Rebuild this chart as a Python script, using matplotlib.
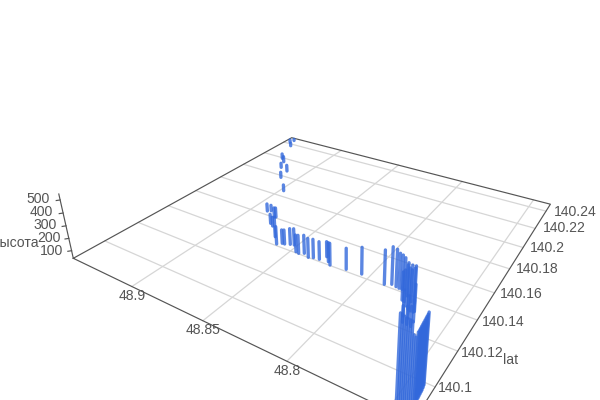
import numpy as np
import matplotlib
matplotlib.use('Agg')
import matplotlib.pyplot as plt

plt.rcParams['font.family'] = ['Liberation Sans', 'DejaVu Sans']

lon = [48.9429, 48.9438, 48.9389, 48.9301, 48.9255, 48.9212, 48.9139, 48.9114, 48.8975, 48.8896, 48.8877, 48.8803, 48.8812,
       48.8784, 48.8754, 48.8666, 48.8611, 48.8588, 48.8572, 48.8542, 48.8518, 48.8469, 48.8447, 48.8420, 48.8378, 48.8352,
       48.8315, 48.8294, 48.8260, 48.8235, 48.8139, 48.8046, 48.7901, 48.7868, 48.7840, 48.7821, 48.7805, 48.7791, 48.7756,
       48.7721, 48.7702, 48.7764, 48.7749, 48.7726, 48.7708, 48.7693, 48.7677, 48.7705, 48.7678,
       48.7687, 48.7663, 48.7641, 48.7644, 48.7673,
       48.7471, 48.7466, 48.7462, 48.7457, 48.7453, 48.7448, 48.7443, 48.7439, 48.7434, 48.7430, 48.7427, 48.7425, 48.7427, 48.7429, 48.7434,
       48.7428, 48.7426, 48.7426, 48.7428, 48.7431]
lat = [140.2457, 140.2423, 140.2376, 140.2193, 140.2158, 140.2087, 140.2065, 140.1980, 140.1857, 140.1633, 140.1646, 140.1608, 140.1604,
       140.1545, 140.1530, 140.1459, 140.1412, 140.1431, 140.1432, 140.1444, 140.1449, 140.1408, 140.1404, 140.1418, 140.1401, 140.1411,
       140.1415, 140.1450, 140.1421, 140.1403, 140.1414, 140.1420, 140.1408, 140.1425, 140.1420, 140.1417, 140.1417, 140.1418, 140.1389,
       140.1363, 140.1364, 140.1354, 140.1347, 140.1329, 140.1316, 140.1310, 140.1310, 140.1268, 140.1268,
       140.1234, 140.1232, 140.1229, 140.1258, 140.1316,
       140.0840, 140.0847, 140.0854, 140.0861, 140.0868, 140.0875, 140.0882, 140.0890, 140.0897, 140.0904, 140.0915, 140.0926, 140.0945, 140.0964, 140.0988,
       140.0910, 140.0920, 140.0935, 140.0955, 140.0976]
height = [50, 59, 63, 82, 89, 78, 94, 87, 92, 101, 86, 118, 118,
          117, 114, 203, 183, 150, 155, 169, 174, 176, 186, 186, 193, 188,
          181, 161, 192, 213, 206, 249, 303, 327, 325, 306, 300, 285, 290,
          313, 315, 250, 278, 342, 341, 340, 361, 230, 200,
          160, 170, 185, 195, 240,
          646, 635, 618, 602, 591, 580, 568, 480, 462, 487, 500, 513, 515, 517, 513,
          494, 507, 514, 516, 515]

x_grid = [48.9, 48.85, 48.8, 48.75]
y_grid = [140.1, 140.12, 140.14, 140.16, 140.18, 140.2, 140.22, 140.24]
z_ticks = [100, 200, 300, 400, 500]

x_range = (48.739, 48.948)
y_range = (140.083, 140.2487)
z_range = (37, 545)

W, HT = 600, 400

# floor corners as they sit in the picture, the camera is fitted to these
corners = {(1, 0): (73.3, 258.3), (0, 0): (413, 422), (0, 1): (550.4, 204.2), (1, 1): (291.7, 137.7)}
rows = []
for (u, v), (px, py) in corners.items():
    rows.append([u, v, 1, 0, 0, 0, -px * u, -px * v, -px])
    rows.append([0, 0, 0, u, v, 1, -py * u, -py * v, -py])
H = np.linalg.svd(np.array(rows, float))[2][-1].reshape(3, 3)
H /= H[2, 2]
w_left = (H @ np.array([1, 0, 1.0]))[2]
vanish = np.array([346, 1468, 1.0]) * (-w_left * 64.3 / 1274)
P = np.column_stack([H[:, 0], H[:, 1], vanish, H[:, 2]])

scale = np.diag([1 / (x_range[1] - x_range[0]), 1 / (y_range[1] - y_range[0]),
                 1 / (z_range[1] - z_range[0]), 1.0])
scale[:3, 3] = [-x_range[0] * scale[0, 0], -y_range[0] * scale[1, 1], -z_range[0] * scale[2, 2]]

fig = plt.figure(figsize=(W / 100, HT / 100), dpi=100)
ax = fig.add_axes([0, -0.25, 1, 1.5], projection='3d')
ax.set_axis_off()
ax.computed_zorder = False


def fixed_proj():
    # plotly-like camera: picture pixels -> the 2d coordinates of this axes
    flip = np.array([[1, 0, 0], [0, -1, HT], [0, 0, 1.0]])
    P2 = ax.transData.inverted().get_matrix() @ flip @ P
    # depth has to stay negative or mplot3d clips the point away
    return np.vstack([P2[0], P2[1], [0, 0, -1, 0], P2[2]]) @ scale


ax.get_proj = fixed_proj

# floor grid
for gx in x_grid:
    ax.plot([gx, gx], y_range, [z_range[0]] * 2, color='#d6d6d6', lw=0.9, zorder=1)
for gy in y_grid:
    ax.plot(x_range, [gy, gy], [z_range[0]] * 2, color='#d6d6d6', lw=0.9, zorder=1)

# box edges
x0, x1 = x_range
y0, y1 = y_range
ax.plot([x1, x0, x0, x1, x1], [y0, y0, y1, y1, y0], [z_range[0]] * 5, color='#555555', lw=0.85, zorder=2)
ax.plot([x1, x1], [y0, y0], z_range, color='#555555', lw=0.85, zorder=2)
for t in z_ticks:
    ax.plot([x1, x1 + 0.0012], [y0, y0 - 0.0012], [t, t], color='#555555', lw=0.85, zorder=2)

# one vertical stroke per point
for bx, by, top in zip(lon, lat, height):
    ax.plot([bx, bx], [by, by], [z_range[0], top], color='#3268db', lw=2.4, alpha=0.8,
            solid_capstyle='round', zorder=3)


def label(px, py, s, ha='center'):
    fig.text(px / W, 1 - py / HT, s, ha=ha, va='center', fontsize=10.1, color='#555555')


label(131.7, 296, '48.9')
label(203.3, 330, '48.85')
label(287.3, 371, '48.8')
label(455, 388.3, '140.1')
label(482.3, 352.7, '140.12')
label(503.3, 321.7, '140.14')
label(521.7, 294.3, '140.16')
label(537.3, 269, '140.18')
label(547.3, 248.3, '140.2')
label(564.3, 228.3, '140.22')
label(575.7, 211.7, '140.24')
label(510.7, 360, 'lat')
label(51, 251, '100')
label(48.5, 238, '200')
label(44.7, 225, '300')
label(41.3, 212, '400')
label(38, 199, '500')
label(38.3, 243.3, 'высота', ha='right')

fig.savefig('out.png', dpi=100)
